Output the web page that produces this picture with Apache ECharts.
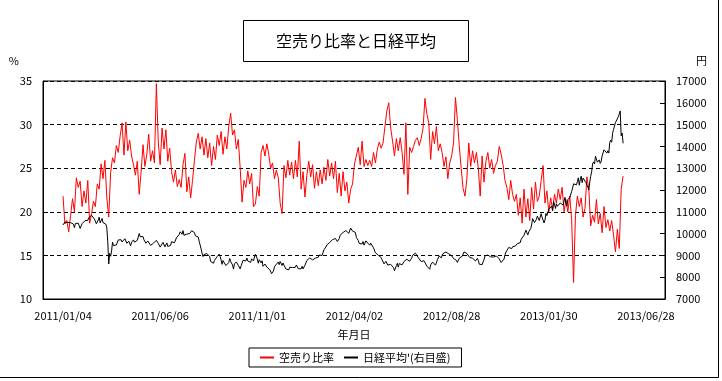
<!DOCTYPE html>
<html>
<head>
<meta charset="utf-8">
<script src="https://cdn.jsdelivr.net/npm/echarts@6/dist/echarts.min.js"></script>
<style>
html,body{margin:0;padding:0;background:#fff;}
#chart{width:722px;height:381px;}
</style>
</head>
<body>
<div id="chart"></div>
<script>
// x-axis tick labels (category index of each labelled trading day)
const xTickLabels = ['2011/01/04','2011/06/06','2011/11/01','2012/04/02','2012/08/28','2013/01/30','2013/06/28'];
const xTickIndex = [0, 102, 204, 306, 408, 510, 612];

// 空売り比率 (%), one value every 2 trading days starting 2011/01/04
const ratioStep = 2;
const ratio = [
  21.8,18.6,19.0,17.7,19.6,21.5,20.0,23.9,22.8,23.5,
  20.6,22.4,21.0,23.6,18.7,19.8,21.2,20.6,23.2,22.6,
  25.5,23.8,25.9,21.6,19.4,24.5,26.2,25.6,27.6,26.8,
  28.7,30.2,26.5,30.3,27.0,28.2,26.4,25.4,24.2,25.8,
  22.0,24.6,27.7,25.2,26.6,28.9,25.8,27.0,25.6,34.7,
  28.0,25.4,29.6,27.2,29.4,25.8,27.3,24.6,23.4,24.8,
  22.9,23.7,22.8,25.4,26.7,22.3,24.0,21.6,23.6,25.9,
  28.0,29.0,27.2,28.6,26.5,28.4,26.2,27.9,25.3,27.5,
  26.0,28.8,27.6,29.2,26.6,28.6,27.2,29.8,31.3,28.8,
  29.4,27.2,28.3,25.0,21.1,23.6,22.8,24.7,23.2,24.4,
  20.6,20.9,22.9,21.8,26.8,27.6,26.4,27.8,26.6,25.0,
  25.6,23.8,24.8,23.9,21.0,19.8,25.3,23.9,25.9,24.2,
  25.7,23.8,25.9,24.0,28.1,22.6,24.6,21.7,24.2,25.8,
  24.0,25.4,22.7,24.6,23.0,24.8,23.2,25.1,23.6,26.0,
  24.1,25.6,23.8,25.8,22.2,24.4,21.8,24.6,22.4,23.4,
  21.0,22.6,23.2,25.5,25.6,27.4,25.4,28.1,25.2,26.0,
  25.3,25.9,25.2,26.8,25.6,27.2,28.0,27.3,27.9,29.8,
  31.6,32.5,29.6,28.1,26.4,28.4,27.0,28.5,26.8,24.3,
  30.2,22.0,27.4,26.8,27.5,28.2,28.5,27.6,28.4,29.6,
  33.0,31.2,30.2,26.0,29.2,27.8,29.8,27.0,27.8,26.8,
  25.2,26.3,23.8,25.6,26.4,27.9,33.1,30.6,27.6,25.0,
  22.7,21.8,23.8,27.9,25.2,27.0,25.6,26.8,25.0,21.8,
  26.4,23.4,25.8,26.8,25.0,26.0,24.4,25.3,25.8,27.5,
  26.6,25.4,23.6,22.8,21.4,23.6,22.0,21.2,22.0,19.6,
  21.6,18.7,22.6,19.4,21.5,19.0,22.8,20.3,23.4,21.2,
  21.8,23.6,25.3,21.0,22.4,20.0,21.6,20.2,22.0,21.0,
  22.6,21.4,22.8,20.0,21.4,20.0,21.8,19.1,11.9,19.6,
  21.8,20.6,21.6,19.4,20.4,24.0,22.6,18.4,19.6,18.8,
  21.4,18.6,19.8,17.6,20.6,18.2,19.1,17.8,19.0,17.3,
  15.4,18.0,15.8,22.6,24.1
];

// 日経平均 (円), every trading day from 2011/01/04
const nikkei2011 = [
  10398,10380,10529,10541,10510,10512,10589,10499,10502,10518,10557,10437,10274,10464,10401,10464,10478,10360,10237,
  10274,10457,10431,10543,10592,10635,10617,10605,10725,10746,10808,10836,10842,10857,10665,10579,10452,10526,10624,
  10754,10492,10586,10693,10505,10525,10589,10434,10254,9620,8605,9093,8962,9206,9608,9449,9435,9536,9478,9459,9708,9755,
  9708,9718,9615,9584,9590,9768,9719,9555,9641,9653,9591,9441,9606,9685,9712,9607,9558,9671,9691,9849,
  10004,9859,9794,9819,9864,9716,9648,9558,9567,9662,9620,9607,9460,9477,9487,9562,9521,9504,9693,
  9719,9555,9492,9380,9442,9467,9599,9514,9391,9448,9574,9411,9351,9354,9459,9629,9596,9678,9578,9648,9797,9816,
  9868,9965,10082,10071,9972,10137,9925,9963,9936,9974,9889,9889,10005,10010,10132,10050,10097,10047,9901,9833,
  9965,9844,9637,9659,9299,9097,8944,9038,8981,8963,9086,9107,9057,8943,8719,8628,8733,8639,8772,8797,8851,8953,8955,
  9060,8950,8785,8590,8763,8793,8737,8535,8616,8518,8668,8864,8721,8741,8560,8374,8609,8615,8701,8700,
  8545,8456,8382,8522,8605,8773,8738,8823,8747,8879,8741,8772,8682,8678,8843,8762,8748,8926,9050,8988,
  8835,8640,8801,8767,8655,8755,8500,8514,8603,8541,8463,8479,8374,8348,8314,8165,8160,8287,8477,8434,
  8597,8643,8695,8575,8722,8664,8536,8653,8552,8519,8377,8401,8296,8336,8459,8395,8479,8440,8423,8398,8455
];
const nikkei2012 = [
  8560,8488,8390,8422,8448,8385,8500,8378,8466,8550,8639,8766,8765,8785,8883,8849,8841,8793,8803,
  8809,8876,8831,8929,8917,9015,9002,8947,8999,9052,9260,9238,9384,9485,9463,9554,9595,9647,9633,9722,9723,
  9707,9777,9698,9637,9576,9768,9929,9889,9899,10050,10123,10129,10141,10086,10127,10011,10018,10255,10182,10114,10083,
  10109,10050,9819,9767,9688,9546,9538,9458,9524,9637,9470,9464,9667,9588,9561,9542,9468,9561,9572,9520,
  9350,9380,9119,9181,9045,9009,8953,8973,8900,8801,8876,8611,8633,8729,8703,8556,8563,8593,8590,8657,8543,
  8440,8295,8383,8533,8639,8459,8624,8536,8577,8568,8647,8721,8655,8752,8824,8798,8734,8730,8663,8874,9007,
  9003,9066,9104,9079,9020,8896,8857,8851,8720,8724,8755,8753,8795,8669,8508,8488,8443,8365,8566,8636,8695,
  8762,8678,8555,8659,8803,8881,8978,8891,8885,8929,9086,9162,9171,9156,9131,9070,9072,9085,9034,8983,8984,8854,8840,
  8783,8775,8680,8676,8871,8869,8807,8959,8995,9159,9123,9232,9086,9110,9069,8906,8972,8949,8870,
  8797,8786,8746,8824,8863,8769,8596,8546,8534,8577,8701,8806,8982,9002,9010,9014,8954,9055,8933,8929,8928,8928,
  8946,8975,8975,9007,8972,8837,8757,8676,8661,8664,8829,9024,9153,9142,9222,9366,9389,9423,9308,9400,9446,
  9458,9432,9468,9545,9527,9533,9581,9742,9737,9828,9923,9933,10160,10039,9940,10080,10081,10230,10395
];
const nikkei2013 = [
  10688,10599,10508,10578,10652,10801,10879,10600,10609,10913,10747,10709,10487,10620,10926,10824,10866,11113,11138,
  11191,11260,11046,11463,11357,11153,11369,11251,11307,11173,11407,11468,11372,11309,11386,11662,11398,11254,11559,
  11606,11652,11683,11932,12090,12283,12349,12314,12239,12381,12560,12220,12468,12635,12338,12546,12471,12493,12336,12397,
  12135,12003,12362,12634,12833,13192,13288,13192,13549,13485,13275,13221,13382,13220,13316,13568,13529,13843,13926,13884,13694,
  13799,13694,14180,14285,14191,14607,14782,14758,15096,15037,15138,15360,15381,15627,14483,14612,14142
];
const nikkei = nikkei2011.concat(nikkei2012, nikkei2013);

const seriesNames = ['空売り比率', "日経平均'(右目盛)"];
const titleText = '空売り比率と日経平均';
const FONT = "'Noto Sans CJK JP', sans-serif";

const chart = echarts.init(document.getElementById('chart'), null, {renderer: 'canvas'});
chart.setOption({
  animation: false,
  backgroundColor: '#fff',
  textStyle: {fontFamily: FONT, color: '#000'},
  title: {
    text: titleText,
    left: 243, top: 20,
    padding: [11, 33, 11, 33],
    borderColor: '#000', borderWidth: 1,
    textStyle: {fontSize: 16, fontWeight: 'normal', color: '#000', fontFamily: FONT, lineHeight: 20}
  },
  legend: {
    data: seriesNames,
    left: 249, top: 348,
    padding: [4, 11, 4, 11],
    borderColor: '#000', borderWidth: 1,
    itemWidth: 14, itemHeight: 2, itemGap: 10,
    icon: 'rect',
    textStyle: {fontSize: 11, color: '#000', fontFamily: FONT}
  },
  grid: {
    left: 43, right: 57, top: 81, bottom: 82,
    show: true, borderColor: '#000', borderWidth: 1, backgroundColor: 'transparent'
  },
  xAxis: {
    type: 'value',
    min: -21, max: 632,
    name: '年月日',
    nameLocation: 'middle',
    nameGap: 36,
    nameTextStyle: {fontSize: 11, color: '#000', verticalAlign: 'middle', fontFamily: FONT},
    axisLine: {show: true, onZero: false, lineStyle: {color: '#000', width: 1}},
    axisTick: {show: false},
    splitLine: {show: false},
    axisLabel: {
      customValues: xTickIndex,
      formatter: function (v) { const k = xTickIndex.indexOf(v); return k >= 0 ? xTickLabels[k] : ''; },
      margin: 11, fontSize: 11, color: '#000', fontFamily: FONT
    }
  },
  yAxis: [
    {
      type: 'value', position: 'left',
      min: 10, max: 35, interval: 5,
      name: '%', nameLocation: 'end', nameGap: 20,
      nameTextStyle: {align: 'right', verticalAlign: 'middle', padding: [0, 24, 0, 0], fontSize: 11, color: '#000', fontFamily: FONT},
      axisLine: {show: true, onZero: false, lineStyle: {color: '#000', width: 1}},
      axisTick: {show: true, inside: true, length: 5, lineStyle: {color: '#000'}},
      splitLine: {show: true, lineStyle: {color: '#000', width: 1, type: [4, 3]}},
      axisLabel: {margin: 11, fontSize: 11, color: '#000', fontFamily: FONT, formatter: function (v) { return String(v); }}
    },
    {
      type: 'value', position: 'right',
      min: 7000, max: 17000, interval: 1000,
      name: '円', nameLocation: 'end', nameGap: 20,
      nameTextStyle: {align: 'left', verticalAlign: 'middle', padding: [0, 0, 0, 31], fontSize: 11, color: '#000', fontFamily: FONT},
      axisLine: {show: true, onZero: false, lineStyle: {color: '#000', width: 1}},
      axisTick: {show: true, inside: true, length: 5, lineStyle: {color: '#000'}},
      splitLine: {show: false},
      axisLabel: {margin: 11, fontSize: 11, color: '#000', fontFamily: FONT, formatter: function (v) { return String(v); }}
    }
  ],
  series: [
    {
      name: seriesNames[0], type: 'line', yAxisIndex: 0,
      data: ratio.map((v, i) => [i * ratioStep, v]),
      showSymbol: false, symbol: 'none',
      color: '#ff0000',
      lineStyle: {color: '#ff0000', width: 1}
    },
    {
      name: seriesNames[1], type: 'line', yAxisIndex: 1,
      data: nikkei.map((v, i) => [i, v]),
      showSymbol: false, symbol: 'none',
      color: '#000000',
      lineStyle: {color: '#000000', width: 1}
    }
  ],
  graphic: [
    {type: 'line', shape: {x1: 718.5, y1: 0, x2: 718.5, y2: 377.5}, style: {stroke: '#000', lineWidth: 1}, silent: true},
    {type: 'line', shape: {x1: 0, y1: 377.5, x2: 718.5, y2: 377.5}, style: {stroke: '#000', lineWidth: 1}, silent: true}
  ]
});
</script>
</body>
</html>
